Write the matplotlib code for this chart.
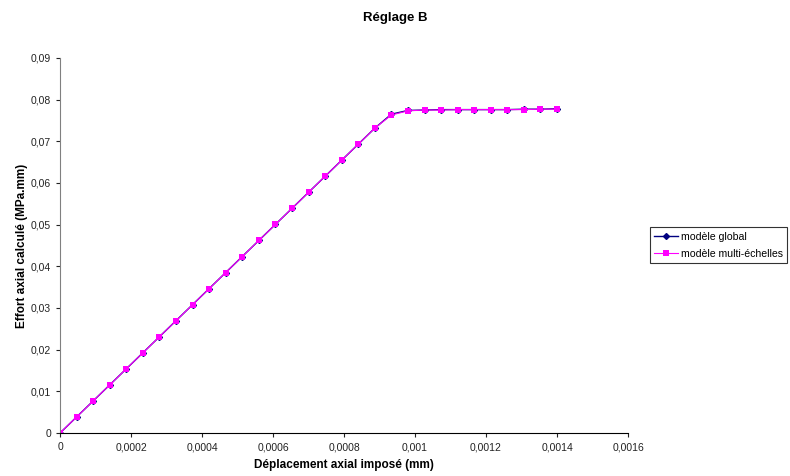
import matplotlib.pyplot as plt
import matplotlib.ticker as mticker
import numpy as np

plt.rcParams['font.family'] = ['Liberation Sans', 'DejaVu Sans']

# Données (31 pas de chargement)
deplacement = np.linspace(0, 0.0014, 31)
effort_multi = [0.0, 0.00385, 0.0077, 0.01155, 0.0154, 0.01925, 0.0231, 0.02695,
                0.0308, 0.03465, 0.0385, 0.04235, 0.0462, 0.05005, 0.0539, 0.05775,
                0.0616, 0.06545, 0.0693, 0.07315, 0.0763, 0.0773, 0.0775, 0.0775,
                0.0776, 0.0776, 0.0776, 0.0776, 0.0776, 0.0777, 0.0777]
effort_global = [0.0, 0.00385, 0.0077, 0.01155, 0.0154, 0.01925, 0.0231, 0.02695,
                 0.0308, 0.03465, 0.0385, 0.04235, 0.0462, 0.05005, 0.0539, 0.05775,
                 0.0616, 0.06545, 0.0693, 0.07315, 0.0765, 0.0774, 0.0775, 0.0776,
                 0.0776, 0.0776, 0.0776, 0.0776, 0.0777, 0.0777, 0.0778]

fig = plt.figure(figsize=(7.9, 4.76), dpi=100)
ax = fig.add_axes([0.076, 0.0903, 0.719, 0.788])

ax.plot(deplacement, effort_global, color='#000080', marker='D', markersize=3,
        linewidth=1, label='modèle global')
ax.plot(deplacement, effort_multi, color='#FF00FF', marker='s', markersize=4.5,
        linewidth=0.8, markeredgewidth=0, label='modèle multi-échelles')

ax.set_xlim(0, 0.0016)
ax.set_ylim(0, 0.09)
ax.xaxis.set_major_locator(mticker.MultipleLocator(0.0002))
ax.yaxis.set_major_locator(mticker.MultipleLocator(0.01))
fmt = mticker.FuncFormatter(lambda v, p: ('%g' % round(v, 6)).replace('.', ','))
ax.xaxis.set_major_formatter(fmt)
ax.yaxis.set_major_formatter(fmt)
ax.tick_params(labelsize=7.5, length=3, width=0.8, colors='#222222')

for s in ['top', 'right']:
    ax.spines[s].set_visible(False)
ax.spines['left'].set_color('#808080')
ax.spines['bottom'].set_color('black')

fig.text(0.5, 1 - 18 / 476, 'Réglage B', fontsize=9.5, fontweight='bold',
         ha='center', va='center')
ax.set_xlabel('Déplacement axial imposé (mm)', fontsize=8.5, fontweight='bold', labelpad=5)
ax.set_ylabel('Effort axial calculé (MPa.mm)', fontsize=8.5, fontweight='bold', labelpad=2)

leg = fig.legend(loc='center left', bbox_to_anchor=(0.823, 0.485), fontsize=7.6,
                 frameon=True, fancybox=False, edgecolor='black', handlelength=2.2,
                 borderpad=0.4, labelspacing=0.65, handletextpad=0.3, borderaxespad=0)
leg.get_frame().set_linewidth(0.8)

fig.savefig('out.png', dpi=100)
